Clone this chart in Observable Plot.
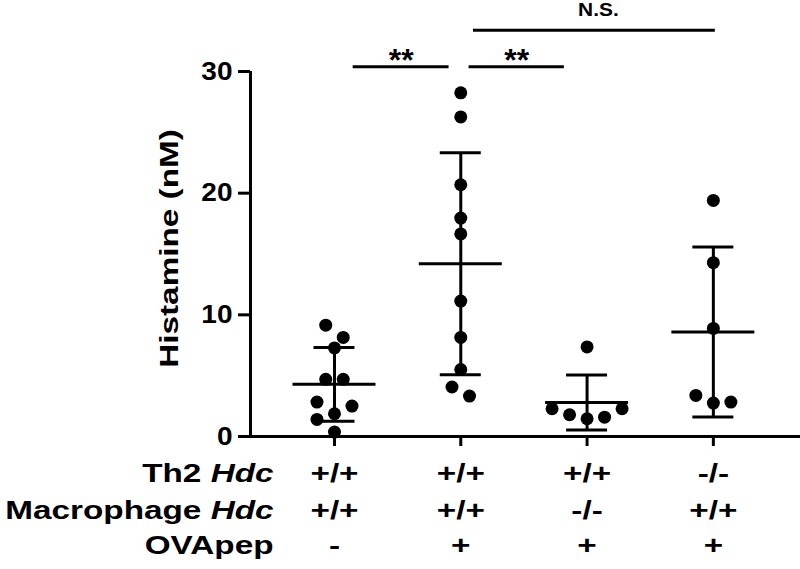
<!DOCTYPE html>
<html><head><meta charset="utf-8">
<script src="https://cdn.jsdelivr.net/npm/d3@7"></script>
<script src="https://cdn.jsdelivr.net/npm/@observablehq/plot@0.6"></script>
<style>
html,body{margin:0;padding:0;background:#fff;}
#chart{width:800px;height:569px;}
#chart text{white-space:pre;}
</style>
</head><body><div id="chart"></div>
<script>
// ---------- data ----------
const groupIndex = [1, 2, 3, 4];
const th2Hdc = ["+/+", "+/+", "+/+", "-/-"];
const macrophageHdc = ["+/+", "+/+", "-/-", "+/+"];
const ovaPep = ["-", "+", "+", "+"];
const rowLabels = ["Th2 Hdc", "Macrophage Hdc", "OVApep"];
const geneSymbol = "Hdc";
const histamineG1 = [9.15, 8.14, 7.28, 4.70, 4.70, 2.83, 2.50, 1.87, 1.40, 0.36];
const histamineG2 = [28.25, 26.27, 20.69, 17.95, 16.65, 11.13, 8.14, 5.50, 4.07, 3.32];
const histamineG3 = [7.36, 2.28, 1.79, 1.46, 1.59, 2.28];
const histamineG4 = [19.40, 14.29, 8.88, 3.38, 2.75, 2.83];
const yTicks = [0, 10, 20, 30];
const yLabel = "Histamine (nM)";
const sigFrom = [1, 2, 2];
const sigTo = [2, 3, 4];
const sigText = ["**", "**", "N.S."];
const sigLevel = [30.4, 30.4, 33.4];

// ---------- layout ----------
const W = 800, H = 569, mL = 250, mR = 0, mT = 71, mB = 133;
const xDomain = [0.335, 4.69];
const yDomain = [0, 30];
const pxPerX = (W - mL - mR) / (xDomain[1] - xDomain[0]);
const pxPerY = (H - mT - mB) / (yDomain[1] - yDomain[0]);
const SW = 3;
const bracketInsets = [[18.7, 11.7], [8.3, 22.7], [12.7, -2]];

// swarm layout (pixel offsets) similar to a column scatter plot
function swarmOffsets(values) {
  const D = 13, S = 17.5;
  const items = values.map((v, i) => ({v, i, off: 0})).sort((a, b) => b.v - a.v);
  const rows = [];
  for (const it of items) {
    const row = rows[rows.length - 1];
    if (row && (row[0].v - it.v) * pxPerY < D) row.push(it); else rows.push([it]);
  }
  const placed = [];
  const shifts = [0];
  for (let k = 1; k <= 10; k++) shifts.push(k * S / 2, -k * S / 2);
  for (const row of rows) {
    const asc = [...row].sort((a, b) => a.v - b.v);
    const n = asc.length;
    const base = asc.map((it, k) => n % 2
      ? (k === 0 ? 0 : (k % 2 ? (k + 1) / 2 : -k / 2)) * S
      : (k % 2 ? -1 : 1) * (Math.floor(k / 2) + 0.5) * S);
    for (const s of shifts) {
      const ok = asc.every((it, k) => placed.every(p =>
        Math.hypot(p.off - (base[k] + s), (p.v - it.v) * pxPerY) >= D - 0.5));
      if (ok) { asc.forEach((it, k) => { it.off = base[k] + s; placed.push(it); }); break; }
    }
  }
  const out = new Array(values.length);
  items.forEach(it => out[it.i] = it.off);
  return out;
}

const groupsValues = [histamineG1, histamineG2, histamineG3, histamineG4];
const points = groupsValues.flatMap((vals, g) => {
  const offs = swarmOffsets(vals);
  return vals.map((v, i) => ({idx: groupIndex[g], v, off: offs[i]}));
});
const stats = groupsValues.map((vals, g) => {
  const m = d3.mean(vals), sd = d3.deviation(vals);
  return {idx: groupIndex[g], mean: m, lo: m - sd, hi: m + sd};
});
const sigIdx = sigText.map((_, i) => i);
const rowValues = [th2Hdc, macrophageHdc, ovaPep];
const rowDy = [45.5, 82.3, 117.3];

const meanHalf = 41.5, capHalf = 20.5;

const marks = [
  Plot.axisY({ticks: yTicks, tickSize: 12, tickPadding: 6, strokeWidth: SW, fontSize: 25, label: null}),
  Plot.axisX({ticks: groupIndex, tickSize: 10, strokeWidth: SW, tickFormat: () => "", label: null}),
  Plot.ruleX([xDomain[0]], {y1: yDomain[0], y2: yDomain[1], strokeWidth: SW}),
  Plot.ruleY([0], {strokeWidth: SW}),
  Plot.ruleX(stats, {x: "idx", y1: "lo", y2: "hi", strokeWidth: SW}),
  Plot.ruleY(stats, {y: "hi", x1: d => d.idx - capHalf / pxPerX, x2: d => d.idx + capHalf / pxPerX, strokeWidth: SW}),
  Plot.ruleY(stats, {y: "lo", x1: d => d.idx - capHalf / pxPerX, x2: d => d.idx + capHalf / pxPerX, strokeWidth: SW}),
  Plot.ruleY(stats, {y: "mean", x1: d => d.idx - meanHalf / pxPerX, x2: d => d.idx + meanHalf / pxPerX, strokeWidth: SW}),
  Plot.dot(points, {x: d => d.idx + d.off / pxPerX, y: "v", r: 6.5, fill: "black", stroke: "none"}),
  // significance brackets
  Plot.ruleY(sigIdx, {
    y: i => sigLevel[i],
    x1: i => sigFrom[i] + bracketInsets[i][0] / pxPerX,
    x2: i => sigTo[i] - bracketInsets[i][1] / pxPerX,
    strokeWidth: SW
  }),
  Plot.text(sigIdx.filter(i => sigText[i] === "**"), {
    x: i => (sigFrom[i] + bracketInsets[i][0] / pxPerX + sigTo[i] - bracketInsets[i][1] / pxPerX) / 2,
    y: i => sigLevel[i], text: i => sigText[i],
    lineAnchor: "bottom", textAnchor: "middle", dy: 4, fontSize: 32
  }),
  Plot.text(sigIdx.filter(i => sigText[i] !== "**"), {
    x: i => (sigFrom[i] + bracketInsets[i][0] / pxPerX + sigTo[i] - bracketInsets[i][1] / pxPerX) / 2 + 4 / pxPerX,
    y: i => sigLevel[i], text: i => sigText[i],
    lineAnchor: "bottom", textAnchor: "middle", dy: -14, fontSize: 19
  }),
  // y title
  Plot.text([yLabel], {text: d => d, frameAnchor: "left", rotate: -90, textAnchor: "middle", lineAnchor: "bottom",
    dx: -73, dy: -5.5, fontSize: 26})
];
rowLabels.forEach((lab, r) => {
  marks.push(Plot.text([lab], {text: d => d, frameAnchor: "bottom-left", dx: 23, dy: rowDy[r],
    textAnchor: "end", lineAnchor: "bottom", fontSize: 26}));
  marks.push(Plot.text(groupIndex, {x: d => d, text: (d, i) => rowValues[r][i], frameAnchor: "bottom", dy: rowDy[r],
    textAnchor: "middle", lineAnchor: "bottom", fontSize: 26}));
});

const svg = Plot.plot({
  width: W, height: H,
  marginLeft: mL, marginRight: mR, marginTop: mT, marginBottom: mB,
  x: {type: "linear", domain: xDomain},
  y: {type: "linear", domain: yDomain},
  style: {fontFamily: "'Liberation Sans', Arial, sans-serif", fontWeight: "bold", color: "black", background: "white", overflow: "visible"},
  marks
});
document.getElementById("chart").appendChild(svg);

// identify texts by content
const tableStrings = new Set([...rowLabels, ...th2Hdc, ...macrophageHdc, ...ovaPep]);
const tickStrings = new Set(yTicks.map(String));
const allTexts = Array.from(svg.querySelectorAll("text"));

// italic gene symbol
allTexts.forEach(node => {
  const t = node.textContent;
  if (rowLabels.includes(t) && t.endsWith(" " + geneSymbol)) {
    const sel = d3.select(node);
    sel.text("");
    sel.append("tspan").text(t.slice(0, t.length - geneSymbol.length));
    sel.append("tspan").attr("font-style", "italic").text(geneSymbol);
  }
});
// horizontal widening of the bold font, like the reference
function stretch(node, f) {
  const len = node.getComputedTextLength();
  if (len > 0) { node.setAttribute("textLength", len * f); node.setAttribute("lengthAdjust", "spacingAndGlyphs"); }
}
allTexts.forEach(node => {
  const t = node.textContent;
  if (tableStrings.has(t) || t === yLabel) stretch(node, 1.28);
  else if (tickStrings.has(t)) stretch(node, 1.12);
  else if (t === "N.S.") stretch(node, 1.1);
});
</script>
</body></html>
